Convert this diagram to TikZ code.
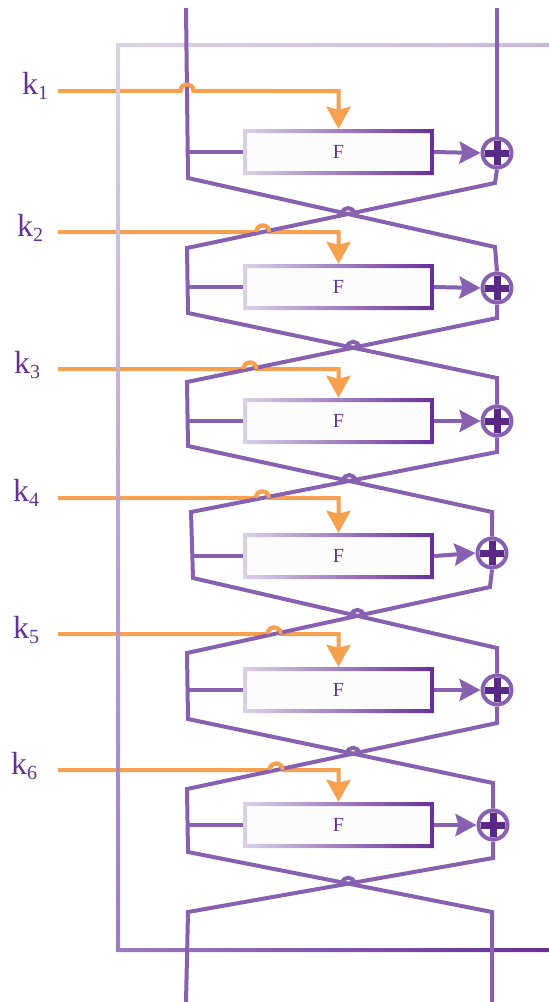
\documentclass[tikz,border=0pt]{standalone}
\usepackage{fontspec}
\setmainfont{Liberation Serif}
\usetikzlibrary{arrows.meta,calc,shadings}
\definecolor{pl}{RGB}{135,97,176}
\definecolor{pd}{RGB}{90,40,135}
\definecolor{tp}{RGB}{100,50,145}
\definecolor{og}{RGB}{246,160,80}
\definecolor{bl}{RGB}{218,210,230}
\definecolor{bd}{RGB}{104,46,152}
\definecolor{bf}{RGB}{252,252,253}
\definecolor{ful}{RGB}{218,212,230}
\definecolor{fur}{RGB}{198,186,218}
\definecolor{fll}{RGB}{155,125,190}
\definecolor{flr}{RGB}{104,44,152}
\begin{document}
\begin{tikzpicture}[x=1pt,y=-1pt,
  plin/.style={draw=pl, line width=4pt, line join=miter},
  keyl/.style={draw=og, line width=4pt},
  fbox/.style={rectangle, minimum width=187pt, minimum height=42pt, inner sep=0pt, fill=bf, text=tp, font=\fontsize{20}{20}\selectfont},
  xorc/.style={circle, minimum size=29pt, inner sep=0pt, draw=pl, line width=4pt, fill=white},
  klab/.style={text=tp, anchor=base west, inner sep=0pt, font=\fontsize{32}{32}\selectfont},
  parr/.style={plin, -{Stealth[length=21pt,width=22pt,inset=3pt]}},
  karr/.style={keyl, -{Stealth[length=22pt,width=24pt,inset=3pt]}}
]
\useasboundingbox (0,0) rectangle (549,1002);
% strand corners
\coordinate (TL1) at (186,8);   \coordinate (TR1) at (497,8);
\coordinate (BL1) at (188,178); \coordinate (BR1) at (495,183);
\coordinate (TL2) at (187,248); \coordinate (TR2) at (495,247);
\coordinate (BL2) at (188,313); \coordinate (BR2) at (497,318);
\coordinate (TL3) at (187,382); \coordinate (TR3) at (497,378);
\coordinate (BL3) at (188,446); \coordinate (BR3) at (497,452);
\coordinate (TL4) at (191,512); \coordinate (TR4) at (492,512);
\coordinate (BL4) at (193,578); \coordinate (BR4) at (490,587);
\coordinate (TL5) at (187,653); \coordinate (TR5) at (497,648);
\coordinate (BL5) at (188,719); \coordinate (BR5) at (497,723);
\coordinate (TL6) at (187,789); \coordinate (TR6) at (493,783);
\coordinate (BL6) at (188,852); \coordinate (BR6) at (493,858);
\coordinate (TL7) at (188,912); \coordinate (TR7) at (492,912);
\coordinate (EL) at (186,1002); \coordinate (ER) at (492,1002);

% F boxes
\foreach \r/\b in {1/152,2/287,3/421,4/556,5/690,6/825} {
  \node[fbox] (F\r) at (338.5,\b) {F};
  \begin{scope}
    \clip (243,\b-23) rectangle (434,\b-19) (243,\b+19) rectangle (434,\b+23)
          (243,\b-23) rectangle (247,\b+23) (430,\b-23) rectangle (434,\b+23);
    \shade[left color=bl, right color=bd] (243,\b-23) rectangle (434,\b+23);
  \end{scope}
}
% XOR circles
\foreach \r/\xx/\yy in {1/497/153,2/497/288,3/497/421,4/492/553,5/497/690,6/493/825} {
  \node[xorc] (X\r) at (\xx,\yy) {};
  \draw[draw=pd, line width=7pt] (\xx-12,\yy) -- (\xx+12,\yy) (\xx,\yy-12) -- (\xx,\yy+12);
}

% key line geometry
\foreach \r/\k in {1/91,2/232,3/369,4/498,5/634,6/770} {
  \coordinate (KS\r) at (58,\k);
  \coordinate (KE\r) at (549,\k);
}
\coordinate (H1) at (intersection of KS1--KE1 and TL1--BL1);
\coordinate (H2) at (intersection of KS2--KE2 and BR1--TL2);
\coordinate (H3) at (intersection of KS3--KE3 and BR2--TL3);
\coordinate (H4) at (intersection of KS4--KE4 and BR3--TL4);
\coordinate (H5) at (intersection of KS5--KE5 and BR4--TL5);
\coordinate (H6) at (intersection of KS6--KE6 and BR5--TL6);
\foreach \r in {1,...,6} {
  \coordinate (Ha\r) at ($(H\r)+(-6.5,0)$);
  \coordinate (Hb\r) at ($(H\r)+(-6.5,-8.7)$);
  \coordinate (Hc\r) at ($(H\r)+(6.5,-8.7)$);
  \coordinate (Hd\r) at ($(H\r)+(6.5,0)$);
  \coordinate (Kc\r) at (F\r.north |- KS\r);
  \coordinate (Kt\r) at ($(F\r.north)+(0,-2)$);
}
% key lines
\foreach \r in {1,...,6} {
  \draw[karr] (KS\r) -- (Ha\r) .. controls (Hb\r) and (Hc\r) .. (Hd\r) -- (Kc\r) -- (Kt\r);
}

% outer frame
\begin{scope}
  \clip (116,43) rectangle (549,47) (116,43) rectangle (120,952) (116,948) rectangle (549,952);
  \shade[upper left=ful, upper right=fur, lower left=fll, lower right=flr] (116,43) rectangle (549,952);
\end{scope}

% purple strands
\draw[plin] (TL1) -- (BL1) -- (TR2) -- (X2.north);
\draw[plin] (TR1) -- (X1.north);
\draw[plin] (X1.south) -- (BR1) -- (TL2) -- (BL2) -- (TR3) -- (X3.north);
\draw[plin] (X2.south) -- (BR2) -- (TL3) -- (BL3) -- (TR4) -- (X4.north);
\draw[plin] (X3.south) -- (BR3) -- (TL4) -- (BL4) -- (TR5) -- (X5.north);
\draw[plin] (X4.south) -- (BR4) -- (TL5) -- (BL5) -- (TR6) -- (X6.north);
\draw[plin] (X5.south) -- (BR5) -- (TL6) -- (BL6) -- (TR7) -- (ER);
\draw[plin] (X6.south) -- (BR6) -- (TL7) -- (EL);

% branches into F and arrows to XOR
\foreach \r in {1,...,6} {
  \coordinate (ML\r) at ($(TL\r)!0.5!(BL\r)$);
  \coordinate (Fw\r) at ($(F\r.west)+(-2,0)$);
  \coordinate (Fe\r) at ($(F\r.east)+(2,0)$);
  \draw[plin] (ML\r |- F\r.west) -- (Fw\r);
  \draw[parr] (Fe\r) -- (X\r.west);
}

% crossing hops between strands
\coordinate (C1) at (intersection of BL1--TR2 and BR1--TL2);
\coordinate (C2) at (intersection of BL2--TR3 and BR2--TL3);
\coordinate (C3) at (intersection of BL3--TR4 and BR3--TL4);
\coordinate (C4) at (intersection of BL4--TR5 and BR4--TL5);
\coordinate (C5) at (intersection of BL5--TR6 and BR5--TL6);
\coordinate (C6) at (intersection of BL6--TR7 and BR6--TL7);
\foreach \r in {1,...,6} {
  \coordinate (Ca\r) at ($(C\r)+(-6,0)$);
  \coordinate (Cb\r) at ($(C\r)+(-6,-8)$);
  \coordinate (Cc\r) at ($(C\r)+(6,-8)$);
  \coordinate (Cd\r) at ($(C\r)+(6,0)$);
  \draw[plin] (Ca\r) .. controls (Cb\r) and (Cc\r) .. (Cd\r);
  \draw[keyl] (Ha\r) .. controls (Hb\r) and (Hc\r) .. (Hd\r);
}

% key labels
\node[klab] (L1) at (22,94)  {k\raisebox{-5pt}{\fontsize{20}{20}\selectfont 1}};
\node[klab] (L2) at (17,236) {k\raisebox{-5pt}{\fontsize{20}{20}\selectfont 2}};
\node[klab] (L3) at (14,373) {k\raisebox{-5pt}{\fontsize{20}{20}\selectfont 3}};
\node[klab] (L4) at (13,501) {k\raisebox{-5pt}{\fontsize{20}{20}\selectfont 4}};
\node[klab] (L5) at (13,638) {k\raisebox{-5pt}{\fontsize{20}{20}\selectfont 5}};
\node[klab] (L6) at (11,774) {k\raisebox{-5pt}{\fontsize{20}{20}\selectfont 6}};
\end{tikzpicture}
\end{document}
